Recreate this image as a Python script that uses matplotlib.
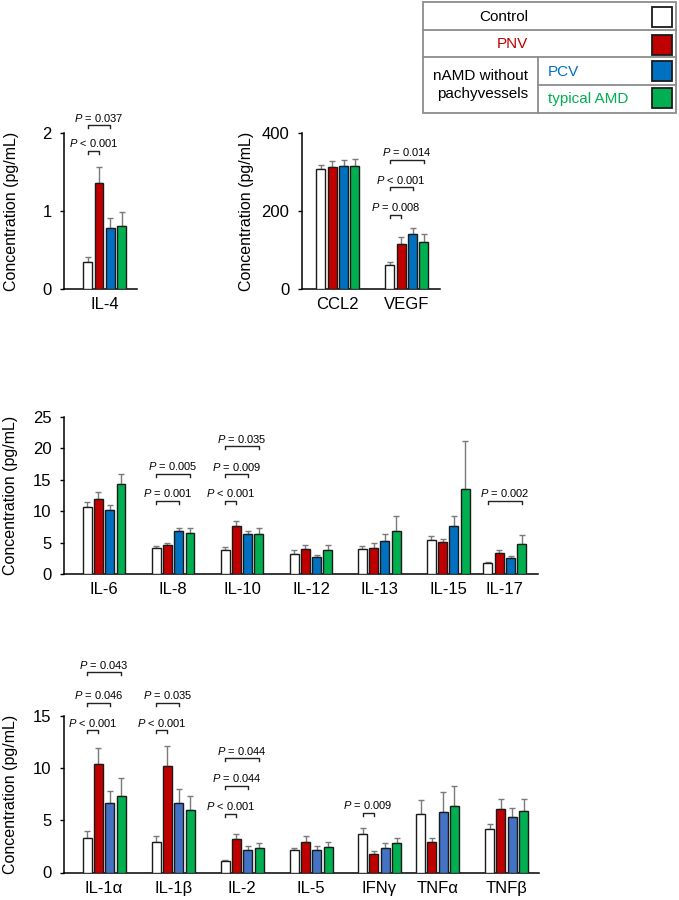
"""Cytokine concentrations by group, four bar panels with significance brackets."""
import numpy as np
import matplotlib
matplotlib.use("Agg")
import matplotlib.pyplot as plt
from matplotlib.patches import Rectangle

plt.rcParams['font.family'] = ['Liberation Sans', 'DejaVu Sans']
plt.rcParams['mathtext.fontset'] = 'custom'
plt.rcParams['mathtext.rm'] = 'Liberation Sans'
plt.rcParams['mathtext.it'] = 'Liberation Sans:italic'

# Groups
GROUPS = ['Control', 'PNV', 'PCV', 'typical AMD']

# Panel A: IL-4
cats_a = ['IL-4']
mean_a = [[0.35], [1.36], [0.78], [0.81]]
err_a = [[0.06], [0.21], [0.13], [0.18]]
sig_a = [(0, 0, 1, 1.77, '< 0.001'), (0, 0, 2, 2.10, '= 0.037')]

# Panel B: CCL2, VEGF
cats_b = ['CCL2', 'VEGF']
mean_b = [[307, 62], [312, 115], [316, 140], [315, 120]]
err_b = [[11, 7], [15, 18], [15, 16], [19, 20]]
sig_b = [(1, 0, 1, 191, '= 0.008'), (1, 0, 2, 261, '< 0.001'),
         (1, 0, 3, 331, '= 0.014')]

# Panel C
cats_c = ['IL-6', 'IL-8', 'IL-10', 'IL-12', 'IL-13', 'IL-15', 'IL-17']
mean_c = [[10.7, 4.1, 3.9, 3.2, 4.0, 5.4, 1.8],
          [11.9, 4.55, 7.7, 4.0, 4.2, 5.1, 3.4],
          [10.2, 6.8, 6.3, 2.65, 5.2, 7.6, 2.6],
          [14.3, 6.6, 6.35, 3.8, 6.9, 13.6, 4.7]]
err_c = [[0.8, 0.35, 0.45, 0.6, 0.5, 0.7, 0.16],
         [1.2, 0.43, 0.8, 0.66, 0.7, 0.5, 0.47],
         [0.8, 0.5, 0.6, 0.45, 1.16, 1.6, 0.3],
         [1.65, 0.8, 0.9, 0.8, 2.3, 7.5, 1.55]]
sig_c = [(1, 0, 2, 11.6, '= 0.001'), (1, 0, 3, 15.9, '= 0.005'),
         (2, 0, 1, 11.65, '< 0.001'), (2, 0, 2, 15.85, '= 0.009'),
         (2, 0, 3, 20.35, '= 0.035'), (6, 0, 3, 11.6, '= 0.002')]

# Panel D
cats_d = ['IL-1\u03b1', 'IL-1\u03b2', 'IL-2', 'IL-5', 'IFN\u03b3', 'TNF\u03b1', 'TNF\u03b2']
mean_d = [[3.3, 2.9, 1.08, 2.14, 3.73, 5.58, 4.15],
          [10.4, 10.25, 3.19, 2.97, 1.78, 2.93, 6.13],
          [6.64, 6.7, 2.14, 2.2, 2.39, 5.84, 5.36],
          [7.37, 6.0, 2.36, 2.45, 2.78, 6.35, 5.9]]
err_d = [[0.63, 0.6, 0.16, 0.25, 0.51, 1.41, 0.54],
         [1.5, 1.85, 0.54, 0.57, 0.26, 0.33, 0.89],
         [1.16, 1.34, 0.44, 0.38, 0.39, 1.92, 0.86],
         [1.69, 1.37, 0.51, 0.52, 0.57, 1.98, 1.19]]
sig_d = [(0, 0, 1, 13.63, '< 0.001'), (0, 0, 2, 16.25, '= 0.046'),
         (0, 0, 3, 19.2, '= 0.043'), (1, 0, 1, 13.63, '< 0.001'),
         (1, 0, 2, 16.25, '= 0.035'), (2, 0, 1, 5.65, '< 0.001'),
         (2, 0, 2, 8.3, '= 0.044'), (2, 0, 3, 10.95, '= 0.044'),
         (4, 0, 1, 5.7, '= 0.009')]

# layout (pixels)
W, H = 679, 900
STEP = 0.164
BW = 0.13
RED, BLUE, BLUE2, GREEN = '#C00000', '#0070C0', '#4472C4', '#00B050'


def panel(box, cats, means, errs, sigs, ylim, yticks, xlim, gx, colors, ylab_x):
    l, t, w, h = box
    ax = plt.axes([l / W, 1 - (t + h) / H, w / W, h / H])
    for i in range(4):
        xs = np.array(gx) + (i - 1.5) * STEP
        ax.bar(xs, means[i], width=BW, color=colors[i], edgecolor='#1a1a1a',
               linewidth=1.0, zorder=3)
        ax.errorbar(xs, means[i], yerr=[np.zeros(len(xs)), errs[i]], fmt='none',
                    ecolor='#7a7a7a', elinewidth=1.0, capsize=2.3, capthick=1.0,
                    zorder=2)
    ax.set_xlim(*xlim)
    ax.set_ylim(*ylim)
    ax.set_yticks(yticks)
    ax.set_xticks(gx)
    ax.set_xticklabels(cats, fontsize=12)
    ax.tick_params(axis='x', length=0, pad=6)
    ax.tick_params(axis='y', length=3, width=1.0, pad=6, labelsize=12)
    for s in ['top', 'right']:
        ax.spines[s].set_visible(False)
    for s in ['left', 'bottom']:
        ax.spines[s].set_linewidth(1.1)
    ax.set_ylabel('Concentration (pg/mL)', fontsize=11.5)
    ax.yaxis.set_label_coords((ylab_x - l) / w, 0.5)
    ax.yaxis.label.set_va('center')
    tick = (ylim[1] - ylim[0]) * 3.0 / h
    for c, a, b, y, txt in sigs:
        x0 = gx[c] + (a - 1.5) * STEP
        x1 = gx[c] + (b - 1.5) * STEP
        ax.plot([x0, x0, x1, x1], [y - tick, y, y, y - tick], color='#222222',
                lw=1.0, clip_on=False, zorder=4)
        ax.annotate(r'$\it{P}$ ' + txt, xy=((x0 + x1) / 2, y), xytext=(0, 1.2),
                    textcoords='offset points', ha='center', va='bottom',
                    fontsize=8, annotation_clip=False)
    return ax


fig = plt.figure(figsize=(W / 100, H / 100), dpi=100)

cols = ['white', RED, BLUE, GREEN]
panel((64, 133, 73, 156), cats_a, mean_a, err_a, sig_a, (0, 2), [0, 1, 2],
      (-0.59, 0.47), [0], cols, 12)
panel((302, 133, 138, 156), cats_b, mean_b, err_b, sig_b, (0, 400), [0, 200, 400],
      (-0.52, 1.48), [0, 1], cols, 246)
panel((64, 417, 474, 157), cats_c, mean_c, err_c, sig_c, (0, 25), [0, 5, 10, 15, 20, 25],
      (-0.58, 6.29), [0, 1, 2, 3, 3.99, 4.99, 5.81], cols, 11)
panel((64, 716, 475, 156.5), cats_d, mean_d, err_d, sig_d, (0, 15), [0, 5, 10, 15],
      (-0.58, 6.30), [0, 1, 2, 3, 3.99, 4.83, 5.83], ['white', RED, BLUE2, GREEN], 11)

# legend table drawn in pixel coordinates
lg = plt.axes([0, 0, 1, 1], facecolor='none')
lg.set_xlim(0, W)
lg.set_ylim(H, 0)
lg.axis('off')
gc = '#8c8c8c'
lg.add_patch(Rectangle((423, 2), 253, 111, fill=False, ec=gc, lw=1.3))
lg.plot([423, 676], [30, 30], color=gc, lw=1.3)
lg.plot([423, 676], [57, 57], color=gc, lw=1.3)
lg.plot([538, 676], [85, 85], color=gc, lw=1.3)
lg.plot([538, 538], [57, 113], color=gc, lw=1.3)
sw_y = [7, 35, 61, 88]
sw_c = ['white', RED, BLUE, GREEN]
for y, c in zip(sw_y, sw_c):
    lg.add_patch(Rectangle((652, y), 20, 20, fc=c, ec='#1a1a1a', lw=1.3))
lg.text(528, 17, 'Control', ha='right', va='center', fontsize=11, color='black')
lg.text(528, 44, 'PNV', ha='right', va='center', fontsize=11, color=RED)
lg.text(528, 85, 'nAMD without\npachyvessels', ha='right', va='center',
        fontsize=11, color='black', linespacing=1.3)
lg.text(548, 72, 'PCV', ha='left', va='center', fontsize=11, color=BLUE)
lg.text(548, 99, 'typical AMD', ha='left', va='center', fontsize=11, color=GREEN)

fig.savefig('out.png', dpi=100)
